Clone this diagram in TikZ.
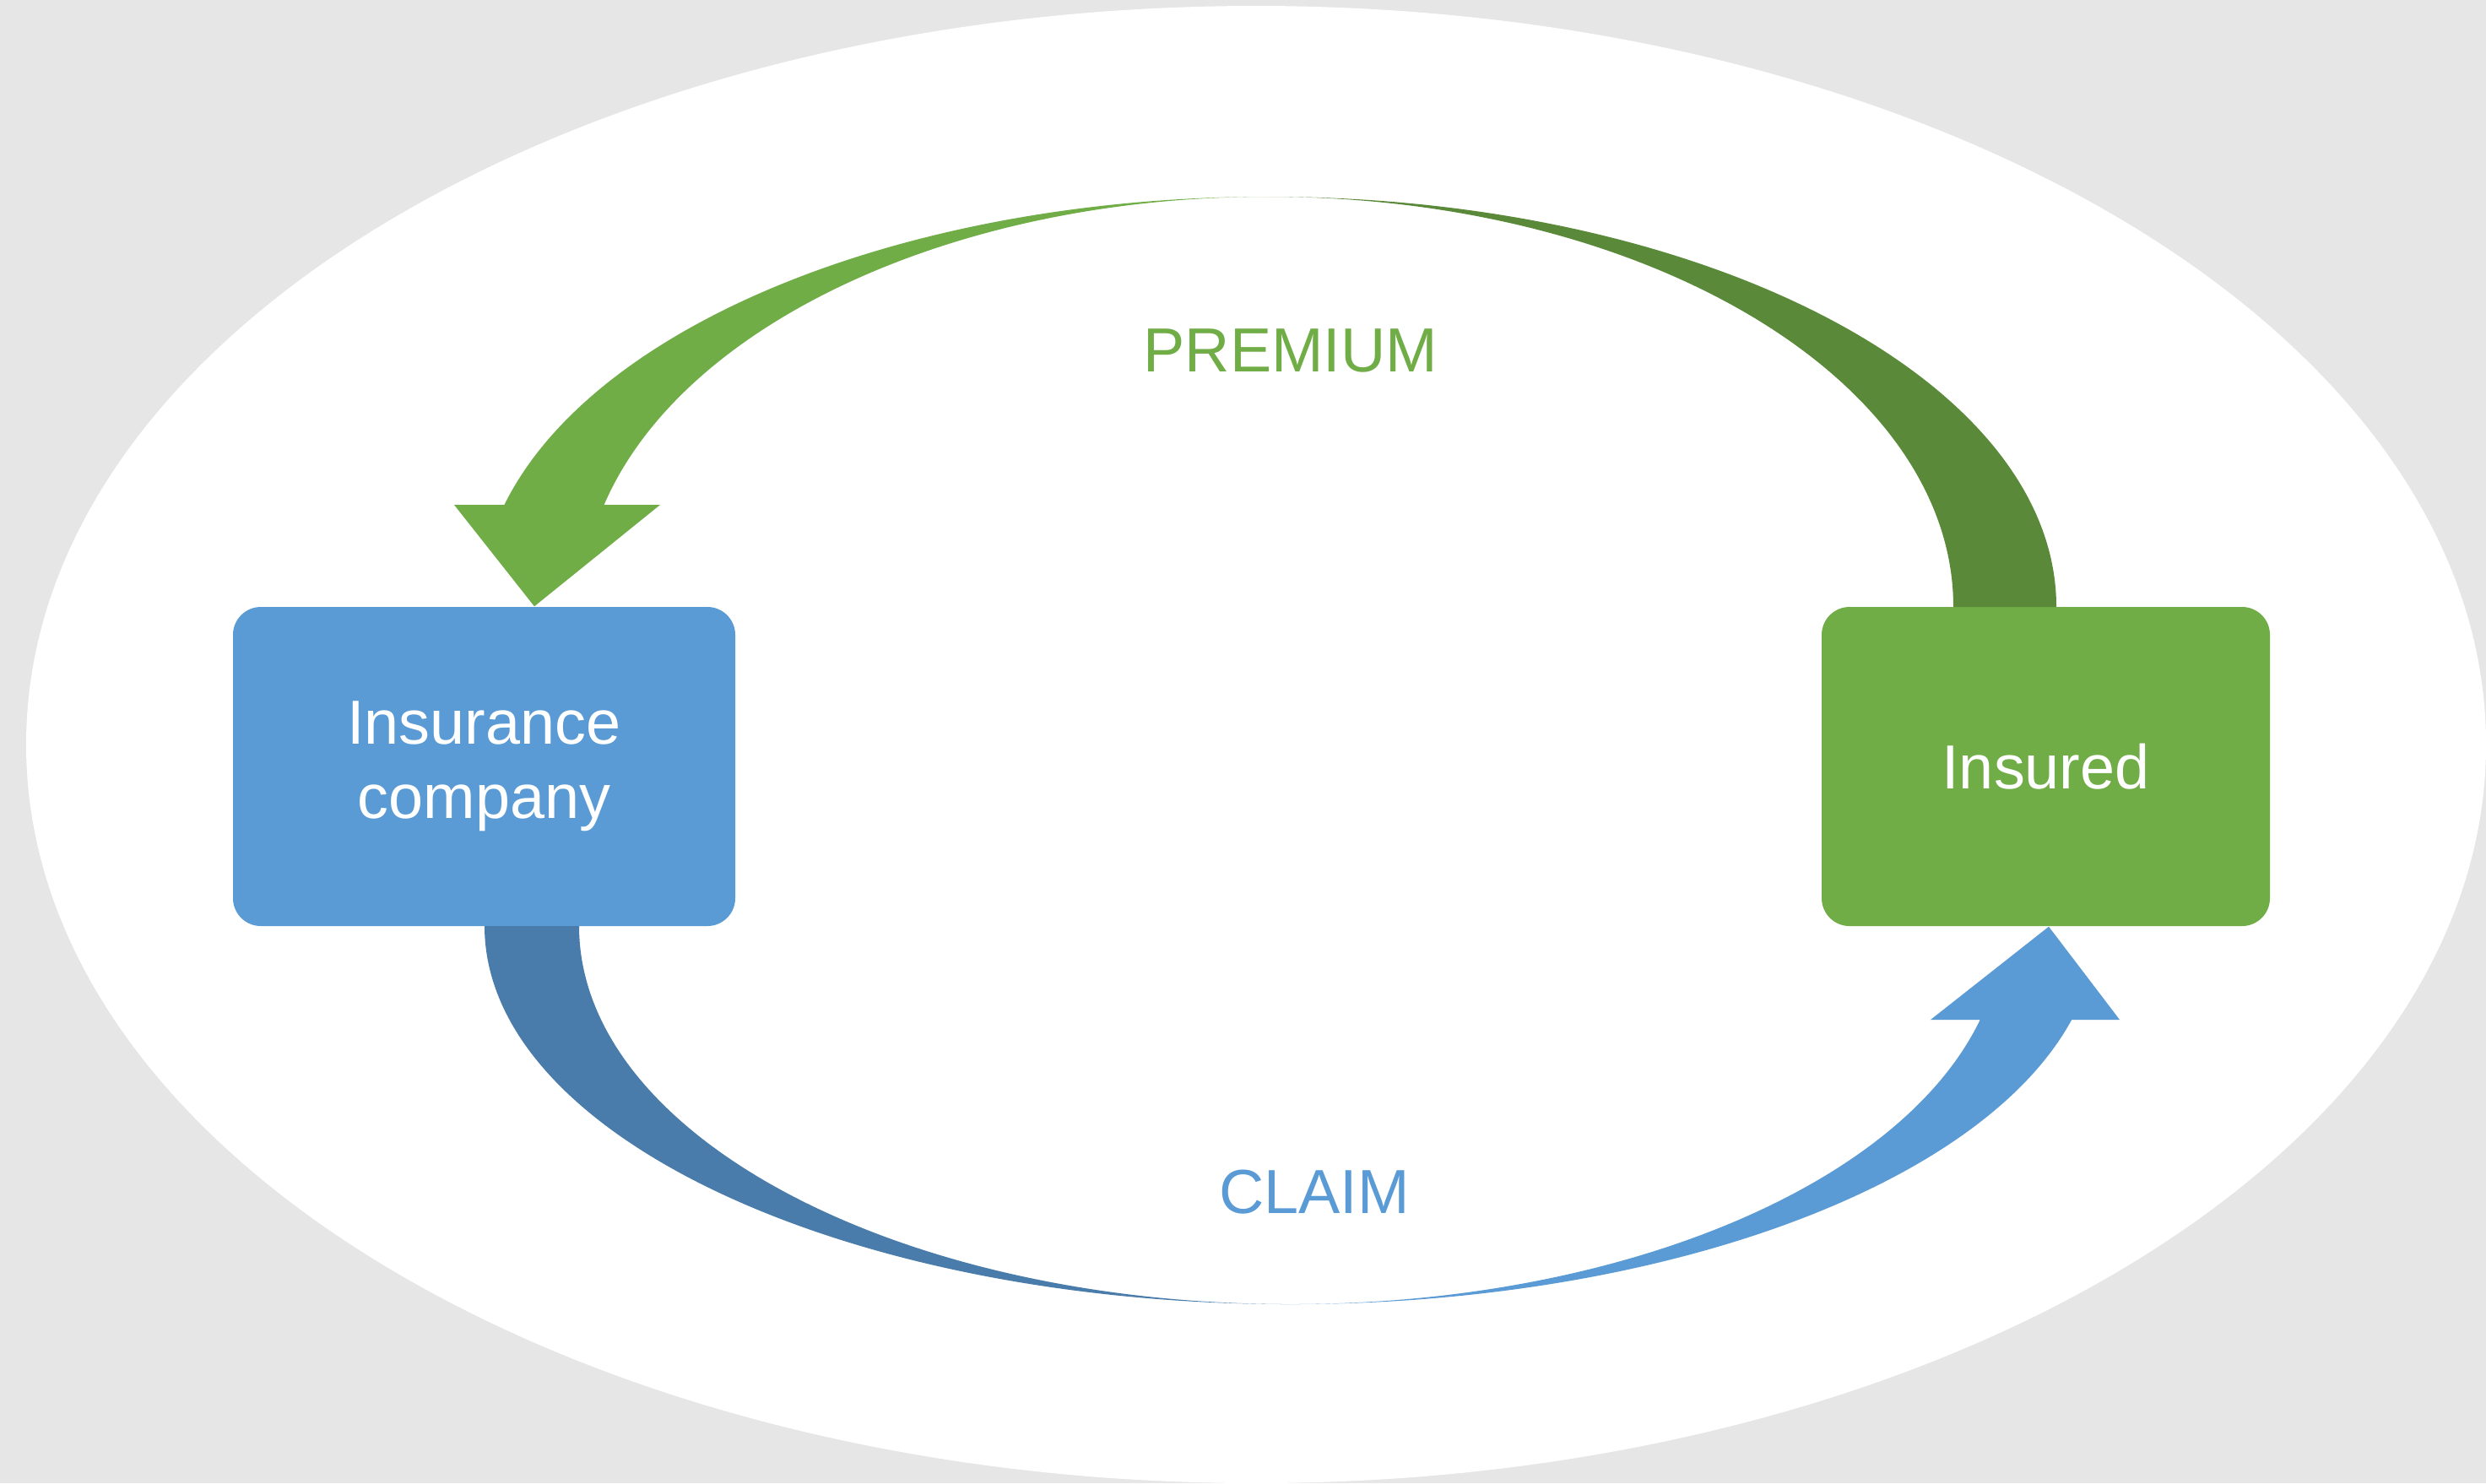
\documentclass[tikz,border=0pt]{standalone}
\usepackage{fontspec}
\setmainfont{Liberation Sans}
\usetikzlibrary{calc}
\definecolor{insblue}{HTML}{5B9BD5}
\definecolor{insbluedark}{HTML}{497CAA}
\definecolor{insgreen}{HTML}{70AD47}
\definecolor{insgreendark}{HTML}{5A8A39}
\definecolor{backgray}{HTML}{E6E6E6}
\begin{document}
\begin{tikzpicture}[
  box/.style={rounded corners=0.33cm, minimum height=3.78cm, text=white, align=center, font=\fontsize{21}{25}\selectfont},
  flowtext/.style={font=\fontsize{21}{25}\selectfont}
]
  % Background
  \useasboundingbox (0,0) rectangle (29.45,-17.57);
  \fill[backgray] (0,0) rectangle (29.45,-17.57);
  \fill[white] (14.88,-8.82) ellipse[x radius=14.57, y radius=8.75];

  % Boxes
  \node[box, fill=insblue, minimum width=5.95cm] (insurer) at (5.735,-9.08) {Insurance\\company};
  \node[box, fill=insgreen, minimum width=5.31cm] (insured) at (24.235,-9.08) {Insured};

  % Arc centres and tips
  \coordinate (pc) at (15.02,-7.19);
  \coordinate (cc) at (15.29,-10.97);
  \coordinate (tipP) at ([xshift=0.595cm]insurer.north);
  \coordinate (tipC) at ([xshift=0.035cm]insured.south);

  % Premium arrow
  \fill[insgreendark] ($(pc)+(9.34,0)$) arc[start angle=0, end angle=90, x radius=9.34, y radius=4.86]
    arc[start angle=90, end angle=0, x radius=8.12, y radius=4.86] -- cycle;
  \fill[insgreen] ($(pc)+(0,4.86)$) arc[start angle=90, end angle=165.58, x radius=9.34, y radius=4.86]
    -- (5.38,-5.98) -- (tipP) -- (7.82,-5.98) -- ($(pc)+(165.58:8.12 and 4.86)$)
    arc[start angle=165.58, end angle=90, x radius=8.12, y radius=4.86] -- cycle;

  % Claim arrow
  \fill[insbluedark] ($(cc)+(-9.55,0)$) arc[start angle=180, end angle=270, x radius=9.55, y radius=4.48]
    arc[start angle=270, end angle=180, x radius=8.43, y radius=4.48] -- cycle;
  \fill[insblue] ($(cc)+(0,-4.48)$) arc[start angle=270, end angle=345.65, x radius=9.55, y radius=4.48]
    -- (25.11,-12.08) -- (tipC) -- (22.87,-12.08) -- ($(cc)+(345.65:8.43 and 4.48)$)
    arc[start angle=345.65, end angle=270, x radius=8.43, y radius=4.48] -- cycle;

  % Labels
  \node[flowtext, text=insgreen] (premium) at (15.29,-4.15) {PREMIUM};
  \node[flowtext, text=insblue] (claim) at (15.57,-14.12) {CLAIM};
\end{tikzpicture}
\end{document}
